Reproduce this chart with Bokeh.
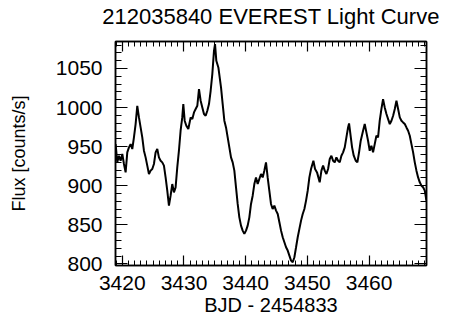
from bokeh.plotting import figure
from bokeh.models import LinearAxis, SingleIntervalTicker, Range1d, CustomLabelingPolicy
from bokeh.embed import file_html
from bokeh.resources import INLINE

title_text = "212035840 EVEREST Light Curve"
x_label = "BJD - 2454833"
y_label = "Flux [counts/s]"

time = [
    3418.92, 3419.19, 3419.46, 3419.73, 3420.00, 3420.27, 3420.54, 3420.81, 3421.08, 3421.35,
    3421.62, 3421.89, 3422.16, 3422.43, 3422.70, 3422.97, 3423.24, 3423.51, 3423.78, 3424.05,
    3424.32, 3424.59, 3424.86, 3425.13, 3425.40, 3425.67, 3425.94, 3426.21, 3426.48, 3426.75,
    3427.02, 3427.29, 3427.56, 3427.83, 3428.10, 3428.37, 3428.64, 3428.91, 3429.18, 3429.45,
    3429.72, 3429.89, 3430.11, 3430.38, 3430.70, 3431.08, 3431.35, 3431.62, 3431.89, 3432.16,
    3432.43, 3432.70, 3432.97, 3433.24, 3433.51, 3433.78, 3434.05, 3434.32, 3434.59, 3434.86,
    3435.03, 3435.24, 3435.57, 3436.00, 3436.27, 3436.54, 3436.81, 3437.08, 3437.35, 3437.62,
    3437.89, 3438.16, 3438.43, 3438.70, 3438.97, 3439.24, 3439.51, 3439.78, 3440.05, 3440.32,
    3440.59, 3440.86, 3441.13, 3441.40, 3441.67, 3441.94, 3442.21, 3442.48, 3442.75, 3443.02,
    3443.29, 3443.56, 3443.83, 3444.10, 3444.37, 3444.64, 3444.92, 3445.19, 3445.46, 3445.73,
    3446.00, 3446.27, 3446.54, 3446.81, 3447.08, 3447.35, 3447.62, 3447.89, 3448.16, 3448.43,
    3448.70, 3448.97, 3449.24, 3449.51, 3449.78, 3450.05, 3450.32, 3450.59, 3450.97, 3451.24,
    3451.56, 3451.99, 3452.27, 3452.54, 3452.81, 3453.08, 3453.35, 3453.62, 3453.89, 3454.16,
    3454.43, 3454.70, 3454.97, 3455.24, 3455.51, 3455.78, 3456.05, 3456.32, 3456.59, 3456.75,
    3456.97, 3457.24, 3457.51, 3457.83, 3458.10, 3458.37, 3458.64, 3459.02, 3459.29, 3459.56,
    3459.83, 3460.10, 3460.37, 3460.64, 3460.91, 3461.18, 3461.45, 3461.72, 3461.99, 3462.26,
    3462.53, 3462.81, 3463.08, 3463.35, 3463.62, 3463.89, 3464.16, 3464.43, 3464.70, 3464.97,
    3465.24, 3465.51, 3465.78, 3466.05, 3466.32, 3466.59, 3466.86, 3467.13, 3467.40, 3467.67,
    3467.94, 3468.21, 3468.48, 3468.75, 3469.02, 3469.29,
]

flux = [
    953.3, 929.9, 938.4, 932.0, 940.6, 927.8, 917.1, 942.7, 949.1, 953.3,
    947.0, 961.9, 978.9, 1002.3, 987.4, 974.6, 961.9, 944.8, 936.3, 925.7,
    915.0, 919.3, 921.4, 927.8, 942.7, 947.0, 936.3, 932.0, 929.9, 925.7,
    910.7, 893.7, 874.6, 887.3, 902.2, 891.6, 898.0, 923.5, 944.8, 970.4,
    987.4, 1004.5, 983.2, 976.8, 972.5, 987.4, 985.3, 993.8, 998.1, 1002.3,
    1023.6, 1008.7, 1000.2, 991.7, 989.6, 995.9, 1004.5, 1021.5, 1042.8, 1072.6,
    1081.1, 1059.8, 1051.3, 1025.8, 1004.5, 983.2, 974.6, 961.9, 949.1, 936.3,
    929.9, 919.3, 898.0, 876.7, 859.6, 849.0, 842.6, 838.4, 842.6, 849.0,
    859.6, 876.7, 887.3, 902.2, 910.7, 902.2, 908.6, 915.0, 910.7, 919.3,
    929.9, 910.7, 893.7, 876.7, 870.3, 874.6, 868.2, 863.9, 853.3, 842.6,
    834.1, 827.7, 821.3, 817.1, 810.7, 804.3, 802.2, 808.6, 821.3, 834.1,
    844.8, 855.4, 863.9, 870.3, 881.0, 893.7, 910.7, 921.4, 932.0, 921.4,
    917.1, 904.4, 919.3, 925.7, 919.3, 915.0, 921.4, 934.2, 938.4, 932.0,
    929.9, 936.3, 932.0, 929.9, 938.4, 942.7, 949.1, 961.9, 974.6, 979.7,
    966.1, 949.1, 938.4, 932.0, 929.9, 942.7, 957.6, 970.4, 978.9, 968.3,
    957.6, 944.8, 951.2, 942.7, 953.3, 964.0, 961.9, 983.2, 998.1, 1010.8,
    1000.2, 991.7, 985.3, 978.9, 983.2, 989.6, 998.1, 1008.7, 998.1, 987.4,
    983.2, 981.0, 978.9, 974.6, 970.4, 964.0, 953.3, 942.7, 929.9, 919.3,
    910.7, 904.4, 900.1, 898.0, 893.7, 881.0,
]

FONT = "Liberation Sans"

p = figure(
    frame_width=311, frame_height=224,
    min_border_left=115, min_border_right=30, min_border_top=36, min_border_bottom=58,
    x_range=Range1d(3418.9, 3469.3), y_range=Range1d(798, 1084.5),
    output_backend="svg", toolbar_location=None, title=title_text,
)
p.title.text_font = FONT
p.title.text_font_size = "22px"
p.title.text_font_style = "normal"
p.title.align = "center"
p.title.standoff = 3
p.title.text_color = "black"

p.xgrid.visible = False
p.ygrid.visible = False
p.outline_line_color = "black"
p.outline_line_width = 1.5
p.background_fill_color = "white"
p.border_fill_color = "white"


def style(ax, major_in, minor_in):
    ax.major_tick_in = major_in
    ax.major_tick_out = 0
    ax.minor_tick_in = minor_in
    ax.minor_tick_out = 0
    ax.axis_line_color = "black"
    ax.axis_line_width = 1.5
    ax.major_tick_line_color = "black"
    ax.minor_tick_line_color = "black"
    ax.major_tick_line_width = 1.2
    ax.minor_tick_line_width = 1.0
    ax.major_label_text_font = FONT
    ax.major_label_text_color = "black"
    ax.axis_label_text_font = FONT
    ax.axis_label_text_font_style = "normal"
    ax.axis_label_text_color = "black"


xa = p.xaxis[0]
xa.ticker = SingleIntervalTicker(interval=10, num_minor_ticks=10)
style(xa, 10, 5)
xa.major_label_text_font_size = "21px"
xa.major_label_standoff = 10
xa.axis_label = x_label
xa.axis_label_text_font_size = "20px"
xa.axis_label_standoff = 1

ya = p.yaxis[0]
ya.ticker = SingleIntervalTicker(interval=50, num_minor_ticks=5)
style(ya, 12, 6)
ya.major_label_text_font_size = "21px"
ya.major_label_standoff = 13
ya.axis_label = y_label
ya.axis_label_text_font_size = "18px"
ya.axis_label_standoff = 24

hide_labels = "for (const i of indices) { indices.unset(i) }\nreturn indices"

top = LinearAxis(ticker=SingleIntervalTicker(interval=10, num_minor_ticks=10))
style(top, 10, 5)
top.major_label_policy = CustomLabelingPolicy(code=hide_labels)
top.major_label_standoff = 0
p.add_layout(top, "above")

right = LinearAxis(ticker=SingleIntervalTicker(interval=50, num_minor_ticks=5))
style(right, 12, 6)
right.major_label_policy = CustomLabelingPolicy(code=hide_labels)
right.major_label_standoff = 0
p.add_layout(right, "right")

p.line(time, flux, line_color="black", line_width=2)

open("out.html", "w").write(file_html(p, INLINE))
